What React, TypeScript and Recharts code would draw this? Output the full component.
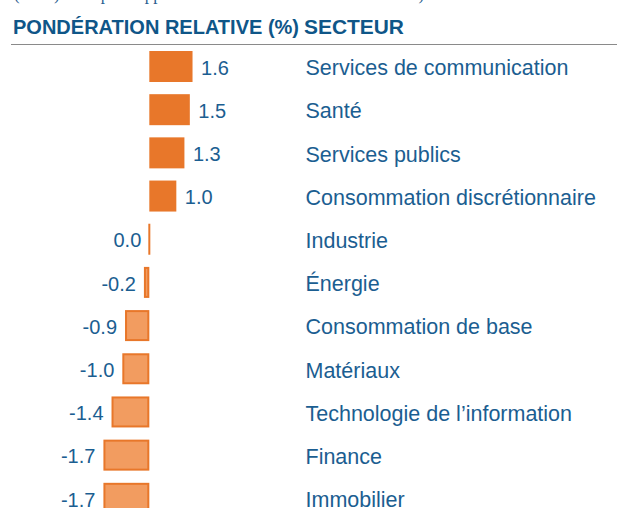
import { BarChart, Bar, XAxis, YAxis, Cell, LabelList } from "recharts"

const sectors = [
  "Services de communication",
  "Santé",
  "Services publics",
  "Consommation discrétionnaire",
  "Industrie",
  "Énergie",
  "Consommation de base",
  "Matériaux",
  "Technologie de l’information",
  "Finance",
  "Immobilier",
]

const weights = [1.6, 1.5, 1.3, 1.0, 0.0, -0.2, -0.9, -1.0, -1.4, -1.7, -1.7]

const data = sectors.map((name, i) => ({ name, value: weights[i] }))

const BLUE = "#1b5e91"
const HEAD = "#0f5688"
const ORANGE = "#e8772a"
const LIGHT = "#f29c60"
const FONT = "Liberation Sans, Arial, sans-serif"

function BarShape(props: any) {
  const { x, y, width, height, value } = props
  const left = width < 0 ? x + width : x
  const w = Math.abs(width)
  if (value === 0) {
    return <rect x={x - 1} y={y} width={2} height={height} fill={ORANGE} />
  }
  if (value < 0) {
    return (
      <rect
        x={left + 1}
        y={y + 1}
        width={Math.max(w - 2, 0.5)}
        height={height - 2}
        fill={LIGHT}
        stroke={ORANGE}
        strokeWidth={2}
      />
    )
  }
  return <rect x={left} y={y} width={w} height={height} fill={ORANGE} />
}

function ValueLabel(props: any) {
  const { x, y, width, height, value } = props
  const left = Math.min(x, x + width)
  const right = Math.max(x, x + width)
  const pos = value > 0
  return (
    <text
      x={pos ? right + 8.5 : left - 8}
      y={y + height / 2 + 1}
      dy="0.36em"
      textAnchor={pos ? "start" : "end"}
      fill={BLUE}
      fontSize={20}
      fontFamily={FONT}
    >
      {Number(value).toFixed(1)}
    </text>
  )
}

// sector names sit in a column on the right
function SectorLabel(props: any) {
  const { y, height, value } = props
  return (
    <text
      x={305.5}
      y={y + height / 2 + 1}
      dy="0.36em"
      textAnchor="start"
      fill={BLUE}
      fontSize={21.5}
      fontFamily={FONT}
    >
      {value}
    </text>
  )
}

export default function App() {
  return (
    <div
      style={{
        position: "absolute",
        left: 0,
        top: 0,
        width: 617,
        height: 508,
        overflow: "hidden",
        background: "#fff",
      }}
    >
      <div
        style={{
          position: "absolute",
          left: 14,
          top: -14,
          fontFamily: "Liberation Serif, serif",
          fontSize: 17,
          lineHeight: "17px",
          color: "#2a5d8f",
          whiteSpace: "nowrap",
        }}
      >
        (en %) de la part rapportée à l’indice de référence du Fonds)
      </div>
      <svg width={617} height={50} style={{ position: "absolute", left: 0, top: 0 }}>
        <text
          x={13}
          y={34}
          fill={HEAD}
          fontSize={21}
          fontWeight="bold"
          fontFamily={FONT}
          textLength={286}
          lengthAdjust="spacingAndGlyphs"
        >
          PONDÉRATION RELATIVE (%)
        </text>
        <text
          x={304}
          y={34}
          fill={HEAD}
          fontSize={21}
          fontWeight="bold"
          fontFamily={FONT}
          textLength={100}
          lengthAdjust="spacingAndGlyphs"
        >
          SECTEUR
        </text>
        <line x1={11} x2={617} y1={44.5} y2={44.5} stroke="#8a8a8a" strokeWidth={1} />
      </svg>
      <div style={{ position: "absolute", left: 0, top: 0 }}>
        <BarChart
          layout="vertical"
          width={617}
          height={520}
          data={data}
          margin={{ top: 45, right: 0, left: 0, bottom: 0 }}
          barSize={31}
        >
          <XAxis type="number" hide domain={[-5.53, 17.32]} />
          <YAxis type="category" dataKey="name" hide />
          <Bar dataKey="value" isAnimationActive={false} shape={<BarShape />}>
            {data.map((d) => (
              <Cell key={d.name} fill={d.value < 0 ? LIGHT : ORANGE} />
            ))}
            <LabelList dataKey="value" content={<ValueLabel />} />
            <LabelList dataKey="name" content={<SectorLabel />} />
          </Bar>
        </BarChart>
      </div>
    </div>
  )
}
